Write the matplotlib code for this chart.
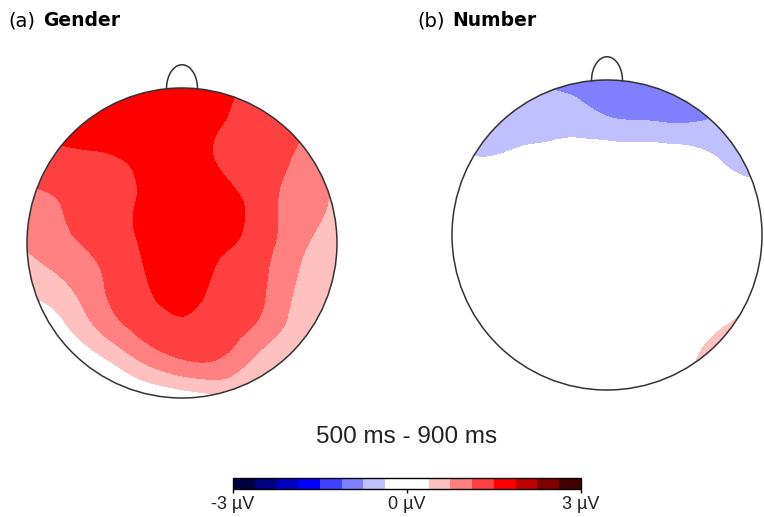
import numpy as np
import matplotlib
matplotlib.use("Agg")
import matplotlib.pyplot as plt
import matplotlib.tri as mtri
from matplotlib.colors import ListedColormap, BoundaryNorm
from matplotlib.cm import ScalarMappable
from matplotlib.patches import Circle

# grid of sampled amplitudes (uV) over the head, nose up; rows top -> bottom
grid_x = [-1.0, -0.75, -0.5, -0.25, 0.0, 0.25, 0.5, 0.75, 1.0]
grid_y = [1.0, 0.75, 0.5, 0.25, 0.0, -0.25, -0.5, -0.75, -1.0]

gender = [
    [1.60, 1.70, 1.78, 1.80, 1.75, 1.58, 1.42, 1.30, 1.15],
    [1.45, 1.62, 1.72, 1.78, 1.70, 1.50, 1.35, 1.18, 0.95],
    [1.25, 1.35, 1.40, 1.60, 1.75, 1.47, 1.30, 1.05, 0.78],
    [1.00, 1.15, 1.35, 1.55, 1.80, 1.72, 1.32, 0.95, 0.70],
    [0.80, 1.05, 1.25, 1.55, 1.78, 1.60, 1.30, 0.85, 0.62],
    [0.50, 0.75, 1.13, 1.45, 1.70, 1.40, 1.20, 0.72, 0.55],
    [0.15, 0.40, 0.95, 1.30, 1.48, 1.35, 1.10, 0.60, 0.45],
    [-0.10, 0.05, 0.35, 0.82, 1.12, 1.10, 0.65, 0.45, 0.30],
    [-0.50, -0.30, -0.20, -0.05, 0.12, 0.32, 0.45, 0.30, 0.20],
]

number = [
    [-0.55, -0.65, -0.75, -0.85, -0.95, -1.00, -0.95, -0.85, -0.70],
    [-0.45, -0.50, -0.52, -0.55, -0.72, -0.78, -0.82, -0.72, -0.60],
    [-0.35, -0.37, -0.30, -0.22, -0.15, -0.15, -0.20, -0.42, -0.48],
    [-0.15, -0.12, -0.08, -0.05, -0.03, -0.03, -0.08, -0.20, -0.30],
    [-0.05, -0.02, 0.00, 0.00, 0.00, 0.00, 0.00, -0.05, -0.10],
    [0.02, 0.02, 0.02, 0.02, 0.03, 0.05, 0.08, 0.15, 0.25],
    [0.02, 0.02, 0.02, 0.03, 0.05, 0.08, 0.15, 0.27, 0.53],
    [0.02, 0.02, 0.02, 0.03, 0.08, 0.12, 0.25, 0.53, 0.55],
    [0.02, 0.02, 0.02, 0.03, 0.10, 0.22, 0.44, 0.50, 0.45],
]

levels = np.linspace(-3, 3, 17)
colors = ['#000040', '#000080', '#0000c0', '#0000ff', '#4040ff', '#8080ff', '#c0c0ff',
          '#ffffff', '#ffffff',
          '#ffc0c0', '#ff8080', '#ff4040', '#ff0000', '#c00000', '#800000', '#400000']
cmap = ListedColormap(colors)
norm = BoundaryNorm(levels, cmap.N)

W, H = 764, 517
fig = plt.figure(figsize=(W / 100, H / 100), dpi=100)


def head_axes(cx, cy, r, xlim, ylim):
    left = cx + xlim[0] * r
    right = cx + xlim[1] * r
    top = cy - ylim[1] * r
    bottom = cy - ylim[0] * r
    ax = fig.add_axes([left / W, 1 - bottom / H, (right - left) / W, (bottom - top) / H])
    ax.set_xlim(xlim)
    ax.set_ylim(ylim)
    ax.axis('off')
    return ax


def topo(ax, values):
    X, Y = np.meshgrid(grid_x, grid_y)
    tri = mtri.Triangulation(X.ravel(), Y.ravel())
    refiner = mtri.UniformTriRefiner(tri)
    tri_f, z_f = refiner.refine_field(np.array(values).ravel(), subdiv=4)
    cs = ax.tricontourf(tri_f, z_f, levels=levels, colors=colors)
    clip = Circle((0, 0), 1.0, transform=ax.transData, facecolor='none', edgecolor='none')
    ax.add_patch(clip)
    cs.set_clip_path(clip)
    # head outline + nose
    ax.add_patch(Circle((0, 0), 1.0, fill=False, edgecolor='#333333', lw=1.1, zorder=5))
    t = np.linspace(0, np.pi, 60)
    ax.plot(0.1 * np.cos(t), 0.995 + 0.155 * np.sin(t), color='#333333', lw=1.1, zorder=5)


ax1 = head_axes(182, 243, 155, (-1.1, 1.1), (-1.1, 1.3))
topo(ax1, gender)
ax2 = head_axes(607, 235, 155, (-1.1, 1.02), (-1.1, 1.3))
topo(ax2, number)

fig.text(8 / W, 1 - 21 / H, '(a)', fontsize=14, va='center', ha='left')
fig.text(43 / W, 1 - 21 / H, 'Gender', fontsize=13.5, fontweight='bold', va='center', ha='left')
fig.text(417 / W, 1 - 21 / H, '(b)', fontsize=14, va='center', ha='left')
fig.text(452 / W, 1 - 21 / H, 'Number', fontsize=13.5, fontweight='bold', va='center', ha='left')

fig.text(407 / W, 1 - 437 / H, '500 ms - 900 ms', fontsize=17.5, family='Liberation Sans',
         va='center', ha='center', color='#222222')

cax = fig.add_axes([233 / W, 1 - 489 / H, 348 / W, 11 / H])
cb = fig.colorbar(ScalarMappable(norm=norm, cmap=cmap), cax=cax, orientation='horizontal',
                  ticks=[-3, 0, 3])
cb.set_ticklabels(['-3 µV', '0 µV', '3 µV'])
cb.minorticks_off()
cb.outline.set_linewidth(1.0)
cax.tick_params(length=3, width=1, labelsize=13, pad=2)
for lab in cax.get_xticklabels():
    lab.set_family('Liberation Sans')
    lab.set_color('#222222')

fig.savefig('out.png', dpi=100)
